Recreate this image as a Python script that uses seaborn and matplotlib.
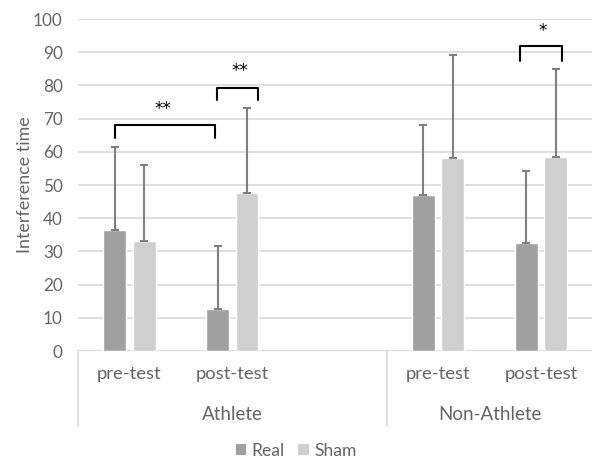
import numpy as np
import pandas as pd
import matplotlib
matplotlib.use("Agg")
import matplotlib.pyplot as plt
import matplotlib.transforms as mtrans
from matplotlib.patches import Patch
import seaborn as sns

# ---- data ----
categories = ["A-pre", "A-post", "A-gap", "N-pre", "N-post"]
tick_labels = ["pre-test", "post-test", "", "pre-test", "post-test"]
groups = ["Athlete", "Non-Athlete"]
group_centers = [1.0, 3.5]
series = ["Real", "Sham"]
real_mean = [36.4, 12.6, np.nan, 47.0, 32.4]
sham_mean = [33.1, 47.5, np.nan, 58.0, 58.5]
real_err = [25.1, 19.0, np.nan, 21.1, 21.8]
sham_err = [22.8, 25.6, np.nan, 31.2, 26.4]
y_ticks = list(range(0, 101, 10))

# significance brackets: x1, x2, tip y, top y, label, label x, label y
br_x1 = [-0.14, 0.852, 3.80]
br_x2 = [0.833, 1.251, 4.20]
br_tip = [64.2, 75.6, 87.3]
br_top = [68.1, 79.3, 91.8]
br_lab = ["**", "**", "*"]
br_lab_x = [0.325, 1.07, 4.02]
br_lab_y = [73.0, 84.2, 96.5]

colors = {"Real": "#a0a0a0", "Sham": "#d0cfcf"}
txt = "#656565"

rows = []
for c, m in zip(categories, real_mean):
    rows.append({"cat": c, "series": "Real", "value": m})
for c, m in zip(categories, sham_mean):
    rows.append({"cat": c, "series": "Sham", "value": m})
df = pd.DataFrame(rows).dropna()
errs = {"Real": real_err, "Sham": sham_err}

sns.set_style("white")
plt.rcParams["font.family"] = ["Lato", "DejaVu Sans"]

fig = plt.figure(figsize=(5.92, 4.61), dpi=100)
ax = fig.add_axes([78 / 592, 1 - 351 / 461, 514.5 / 592, 332 / 461])

sns.barplot(data=df, x="cat", y="value", hue="series", order=categories,
            hue_order=series, palette=colors, width=0.57, gap=0.22,
            saturation=1, errorbar=None, ax=ax, zorder=3)

# error bars (upper only)
for cont, s in zip(ax.containers, series):
    for bar in cont:
        xc = bar.get_x() + bar.get_width() / 2
        h = bar.get_height()
        idx = int(round(xc))
        e = errs[s][idx]
        ax.errorbar(xc, h, yerr=[[0], [e]], fmt="none", ecolor="#7f7f7f",
                    elinewidth=1.5, capsize=3.2, capthick=1.5, zorder=4)

ax.set_ylim(0, 100)
ax.set_xlim(-0.5, 4.5)
ax.set_yticks(y_ticks)
ax.set_yticklabels([str(v) for v in y_ticks])
ax.set_xticks(range(len(categories)))
ax.set_xticklabels(tick_labels)
ax.tick_params(axis="y", length=0, pad=11, labelsize=12.3, labelcolor=txt)
ax.tick_params(axis="x", length=0, pad=10.5, labelsize=13.3, labelcolor=txt)
ax.set_xlabel("")
ax.set_ylabel("Interference time", fontsize=12.9, color=txt)
ax.yaxis.set_label_coords(-0.088, 0.5)
ax.yaxis.grid(True, color="#d9d9d9", lw=1.2)
ax.set_axisbelow(True)
for sp in ax.spines.values():
    sp.set_visible(False)
ax.axhline(0, color="#d9d9d9", lw=1.2, zorder=2)

# hierarchy separators & group labels
trans = mtrans.blended_transform_factory(ax.transData, ax.transAxes)
for xv in [-0.5, 2.5, 4.5]:
    ax.plot([xv, xv], [0, -0.225], transform=trans, color="#d9d9d9",
            lw=1.2, clip_on=False)
for g, gc in zip(groups, group_centers):
    ax.text(gc, -0.19, g, transform=trans, ha="center", va="center",
            fontsize=13.5, color=txt)

# significance brackets
for x1, x2, yt, ytop, lab, lx, ly in zip(br_x1, br_x2, br_tip, br_top,
                                          br_lab, br_lab_x, br_lab_y):
    ax.plot([x1, x1, x2, x2], [yt, ytop, ytop, yt], color="black", lw=1.5,
            solid_joinstyle="round", zorder=5, clip_on=False)
    ax.text(lx, ly, lab, ha="center", va="center", fontsize=12,
            color="black", fontfamily="DejaVu Sans", zorder=5)

# legend
if ax.get_legend() is not None:
    ax.get_legend().remove()
handles = [Patch(facecolor=colors[s], edgecolor="none", label=s) for s in series]
fig.legend(handles=handles, loc="center", bbox_to_anchor=(0.5, 1 - 451 / 461),
           ncol=2, frameon=False, handlelength=0.6, handleheight=0.6,
           handletextpad=0.3, columnspacing=0.8, fontsize=12.6,
           labelcolor=txt)

fig.savefig("out.png", dpi=100)
